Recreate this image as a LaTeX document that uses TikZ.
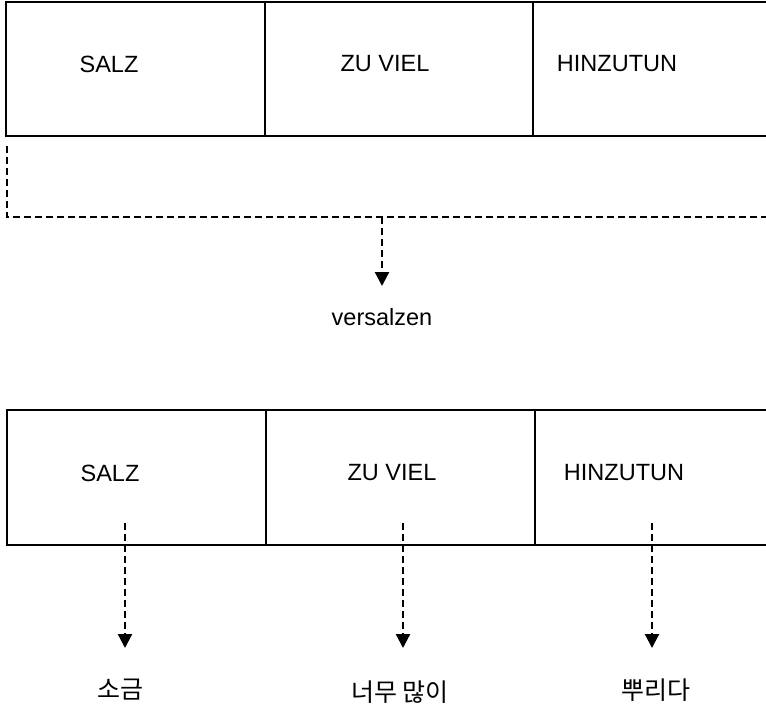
\documentclass[tikz,border=0pt]{standalone}
\usepackage{fontspec}
\setmainfont{Liberation Sans}
\newfontfamily\krfont{Noto Sans CJK KR}
\usetikzlibrary{arrows.meta}
\begin{document}
\begin{tikzpicture}[x=1pt,y=-1pt,
  boxline/.style={line width=2pt},
  dashline/.style={line width=2.2pt,dash pattern=on 7pt off 4pt},
  dasharrow/.style={dashline,-{Triangle[width=14pt,length=14pt]}},
  word/.style={inner sep=0pt,font=\fontsize{23.5}{27}\selectfont},
  krword/.style={inner sep=0pt,font=\krfont\fontsize{25}{29}\selectfont}]
\useasboundingbox (0,0) rectangle (766,710);

% upper row of cells, open to the right
\draw[boxline] (766,2) -- (6,2) -- (6,136) -- (766,136);
\draw[boxline] (265,2) -- (265,136);
\draw[boxline] (533,2) -- (533,136);
\node[word] (s1) at (109,64) {SALZ};
\node[word] (z1) at (385,64) {ZU VIEL};
\node[word] (h1) at (617,64) {HINZUTUN};

% bracket gathering the three words
\coordinate (b1) at (7,146);
\coordinate (b2) at (7,217);
\coordinate (b3) at (766,217);
\coordinate (bm) at (382,217);
\coordinate (bt) at (382,286);
\draw[dashline] (b1) -- (b2) -- (b3);
\node[word] (v) at (382,317) {versalzen};
\draw[dasharrow] (bm) -- (bt);

% lower row of cells
\draw[boxline] (766,410) -- (7,410) -- (7,545) -- (766,545);
\draw[boxline] (266,410) -- (266,545);
\draw[boxline] (535,410) -- (535,545);
\node[word] (s2) at (110,473) {SALZ};
\node[word] (z2) at (392,473) {ZU VIEL};
\node[word] (h2) at (624,473) {HINZUTUN};

% word-by-word renderings
\node[krword] (k1) at (120,690) {소금};
\node[krword] (k2) at (400,692) {너무 많이};
\node[krword] (k3) at (656,690) {뿌리다};
\coordinate (a1) at (125,523);
\coordinate (a2) at (403,523);
\coordinate (a3) at (652,523);
\coordinate (t1) at (125,648);
\coordinate (t2) at (403,648);
\coordinate (t3) at (652,648);
\draw[dasharrow] (a1) -- (t1);
\draw[dasharrow] (a2) -- (t2);
\draw[dasharrow] (a3) -- (t3);
\end{tikzpicture}
\end{document}
